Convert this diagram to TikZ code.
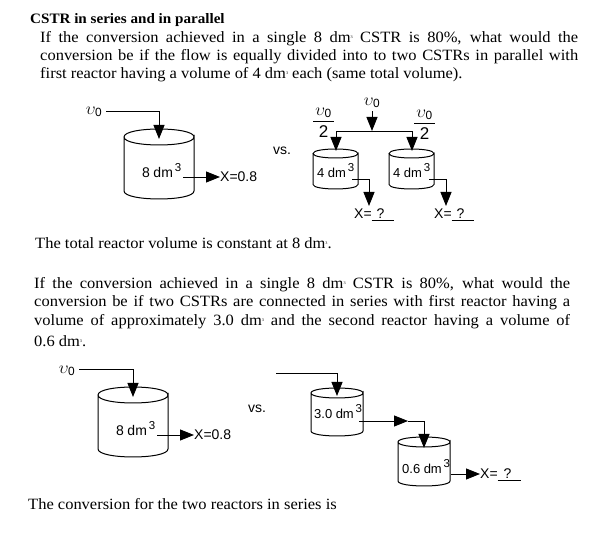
\documentclass[tikz,border=0pt]{standalone}
\usepackage{fontspec}
\setmainfont[FakeStretch=1.05]{Liberation Serif}
\setsansfont{Liberation Sans}
\usetikzlibrary{arrows.meta}
\newcommand{\cubed}{\raisebox{4pt}{\fontsize{4}{4}\selectfont 3}}
\newcommand{\dmthree}{\hspace{3.5pt}dm\raisebox{6.5pt}{\fontsize{11.5}{11.5}\selectfont\,3}}
\newcommand{\vflow}{$\upsilon_{\mathsf{0}}$}
\newcommand{\justline}[1]{\makebox[\linelen][s]{#1}}
\newlength{\linelen}
% outline of a tank node: name, small radius of its ends
\newcommand{\tankline}[2]{
    \draw[line width=1pt] ([yshift=-#2]#1.north west) -- ([yshift=#2]#1.south west)
        .. controls ([yshift=#2-1.33*#2]#1.south west) and ([yshift=#2-1.33*#2]#1.south east) .. ([yshift=#2]#1.south east)
        -- ([yshift=-#2]#1.north east)
        .. controls ([yshift=-#2-1.33*#2]#1.north east) and ([yshift=-#2-1.33*#2]#1.north west) .. ([yshift=-#2]#1.north west)
        .. controls ([yshift=-#2+1.33*#2]#1.north west) and ([yshift=-#2+1.33*#2]#1.north east) .. ([yshift=-#2]#1.north east);
}
\tikzset{
    body/.style={anchor=base west, inner sep=0pt, font=\fontsize{15.7}{15.7}\selectfont},
    sans/.style={anchor=base west, inner sep=0pt, font=\sffamily\fontsize{14}{14}\selectfont},
    small/.style={sans, font=\sffamily\fontsize{13}{13}\selectfont},
    flow/.style={inner sep=0pt, font=\sffamily\fontsize{17}{17}\selectfont},
    tank/.style={inner sep=0pt, outer sep=0pt},
    pipe/.style={draw, line width=0.9pt, -{Triangle[length=14pt,width=11pt]}},
    rule/.style={line width=0.7pt}
}
\begin{document}
\begin{tikzpicture}[x=1pt,y=-1pt]
    \useasboundingbox (0,0) rectangle (598,534);

    % Text of the first problem
    \node[body, font=\bfseries\fontsize{14.4}{14.4}\selectfont] (title) at (30,24) {CSTR in series and in parallel};
    \setlength{\linelen}{538pt}
    \node[body] (lineA) at (40,43) {\justline{If the conversion achieved in a single 8 dm\cubed{} CSTR is 80\%, what would the}};
    \node[body] (lineB) at (40,61) {\justline{conversion be if the flow is equally divided into to two CSTRs in parallel with}};
    \node[body] (lineC) at (40,79) {first reactor having a volume of 4 dm\cubed{} each (same total volume).};
    \node[body] (total) at (35,249) {The total reactor volume is constant at 8 dm\cubed.};

    % Text of the second problem
    \setlength{\linelen}{536pt}
    \node[body] (lineD) at (34,289) {\justline{If the conversion achieved in a single 8 dm\cubed{} CSTR is 80\%, what would the}};
    \node[body] (lineE) at (34,307) {\justline{conversion be if two CSTRs are connected in series with first reactor having a}};
    \node[body] (lineF) at (34,326) {\justline{volume of approximately 3.0 dm\cubed{} and the second reactor having a volume of}};
    \node[body] (lineG) at (34,347) {0.6 dm\cubed.};
    \node[body] (answer) at (28,510) {The conversion for the two reactors in series is};

    % Single tank, top
    \node[tank, minimum width=70pt, minimum height=70pt] (tankA) at (159,164) {};
    \tankline{tankA}{8pt}
    \node[flow] (feedA) at (94,112) {\vflow};
    \node[sans] (volA) at (142,178) {8\dmthree};
    \coordinate (outA) at (183,177);
    \node[sans] (convA) at (220,182) {X=0.8};
    \draw[pipe] (feedA.east) ++(4,-1) -| ([yshift=-10pt]tankA.north);
    \draw[pipe] (outA) -- (convA.west |- outA);
    \node[sans] (vsA) at (273,155) {vs.};

    % Parallel tanks
    \node[tank, minimum width=45pt, minimum height=40pt] (tankB) at (335.5,169) {};
    \node[tank, minimum width=45pt, minimum height=40pt] (tankC) at (411.5,169) {};
    \tankline{tankB}{4.5pt}
    \tankline{tankC}{4.5pt}
    \node[flow] (feedB) at (372,103) {\vflow};
    \coordinate (splitB) at (372,131);
    \draw[pipe] (feedB.south) ++(0,3) -- (splitB);
    \draw[pipe] (splitB) -| (336,151);
    \draw[pipe] (splitB) -| (412,151);
    \node[flow] (halfB) at (323.5,113) {\vflow};
    \node[flow] (twoB) at (323.5,132) {2};
    \draw[rule] (313,121) -- (334,121);
    \node[flow] (halfC) at (424.5,115) {\vflow};
    \node[flow] (twoC) at (424.5,134) {2};
    \draw[rule] (414,123) -- (435,123);
    \node[small] (volB) at (317,178) {4\dmthree};
    \node[small] (volC) at (393,178) {4\dmthree};
    \coordinate (outB) at (352,179);
    \coordinate (outC) at (429,179);
    \draw[pipe] (outB) -| (369,206);
    \draw[pipe] (outC) -| (446,206);
    \node[sans] (convB) at (354,219) {X=\underline{\hspace{5pt}?\hspace{9pt}}};
    \node[sans] (convC) at (434,219) {X=\underline{\hspace{5pt}?\hspace{9pt}}};

    % Single tank, bottom
    \node[tank, minimum width=70pt, minimum height=70pt] (tankD) at (133,422) {};
    \tankline{tankD}{8pt}
    \node[flow] (feedD) at (67,371) {\vflow};
    \node[sans] (volD) at (116,436) {8\dmthree};
    \coordinate (outD) at (157,435);
    \node[sans] (convD) at (194,440) {X=0.8};
    \draw[pipe] (feedD.east) ++(4,-2) -| ([yshift=-10pt]tankD.north);
    \draw[pipe] (outD) -- (convD.west |- outD);
    \node[sans] (vsD) at (248,413) {vs.};

    % Tanks in series
    \node[tank, minimum width=52pt, minimum height=48pt] (tankE) at (337,412) {};
    \node[tank, minimum width=52pt, minimum height=49pt] (tankF) at (424,461.5) {};
    \tankline{tankE}{5pt}
    \tankline{tankF}{5pt}
    \coordinate (feedE) at (276,373);
    \draw[pipe] (feedE) -| ([yshift=-8pt]tankE.north);
    \node[small] (volE) at (314,419) {3.0\dmthree};
    \node[small] (volF) at (402,474) {0.6\dmthree};
    \coordinate (outE) at (359,421);
    \coordinate (midE) at (408,421);
    \draw[pipe] (outE) -- (midE);
    \draw[pipe] (midE) -| ([yshift=-11pt]tankF.north);
    \coordinate (outF) at (451,474);
    \node[sans] (convF) at (480,479) {X=\underline{\hspace{6pt}?\hspace{9pt}}};
    \draw[pipe] (outF) -- (convF.west |- outF);
\end{tikzpicture}
\end{document}
